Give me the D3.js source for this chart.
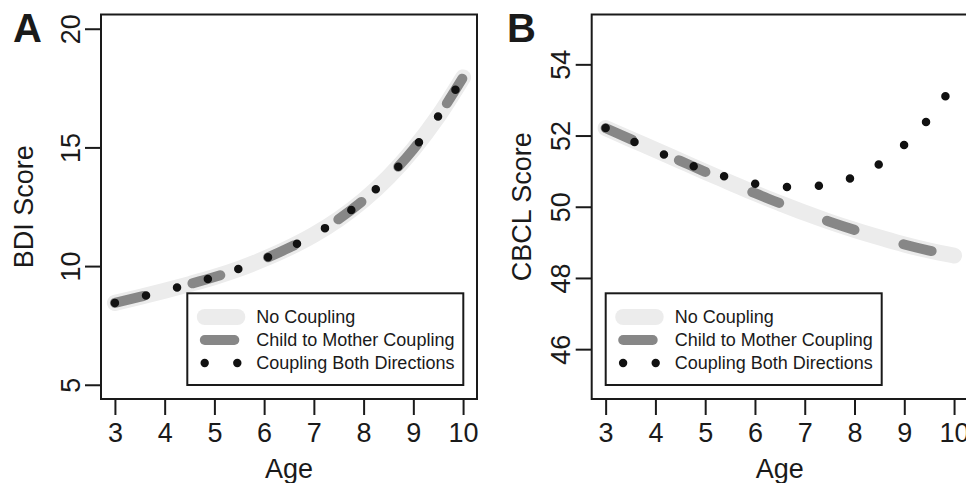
<!DOCTYPE html>
<html><head><meta charset="utf-8">
<script src="https://cdn.jsdelivr.net/npm/d3@7"></script>
<style>
body{margin:0;background:#fff}
svg{display:block}
text{font-family:"Liberation Sans",Arial,Helvetica,sans-serif;fill:#1a1a1a}
</style>
</head><body>
<svg id="c" width="966" height="483"></svg>
<script>
// ---- data ----
const ages = [3,3.5,4,4.5,5,5.5,6,6.5,7,7.5,8,8.5,9,9.5,10];
const bdiNoCoupling      = [8.45,8.70,8.96,9.24,9.54,9.89,10.30,10.77,11.32,11.98,12.78,13.75,14.92,16.31,17.95];
const bdiChildToMother   = [8.45,8.70,8.96,9.24,9.54,9.89,10.30,10.77,11.32,11.98,12.78,13.75,14.92,16.31,17.95];
const bdiBothDirections  = [8.45,8.70,8.96,9.24,9.54,9.89,10.30,10.77,11.32,11.98,12.78,13.75,14.92,16.31,17.95];
const cbclNoCoupling     = [52.21,51.90,51.60,51.29,50.98,50.68,50.38,50.10,49.83,49.58,49.35,49.14,48.94,48.77,48.63];
const cbclChildToMother  = [52.21,51.90,51.60,51.29,50.98,50.68,50.38,50.10,49.83,49.58,49.35,49.14,48.94,48.77,48.63];
const cbclBothDirections = [52.21,51.87,51.57,51.28,51.02,50.81,50.65,50.56,50.55,50.65,50.84,51.20,51.74,52.49,53.45];
const ageTicks  = [3,4,5,6,7,8,9,10];
const bdiTicks  = [5,10,15,20];
const cbclTicks = [46,48,50,52,54];
const bdiLimits  = [5,20];
const cbclLimits = [45,55];
const ageLimits  = [3,10];
const legendLabels = ["No Coupling","Child to Mother Coupling","Coupling Both Directions"];

// ---- styles ----
const INK = "#1a1a1a";
const BAND = "#ececec";
const DASH = "#878787";
const DOT = "#111111";

const svg = d3.select("#c");

function expand(lim){ const d=(lim[1]-lim[0])*0.04; return [lim[0]-d, lim[1]+d]; }

function panel(cfg){
  const g = svg.append("g");
  const x = d3.scaleLinear().domain(expand(ageLimits)).range([cfg.left, cfg.right]);
  const y = d3.scaleLinear().domain(expand(cfg.limits)).range([cfg.bottom, cfg.top]);

  const clipId = "clip"+cfg.id;
  svg.append("defs").append("clipPath").attr("id",clipId)
    .append("rect").attr("x",cfg.left).attr("y",cfg.top)
    .attr("width",cfg.right-cfg.left).attr("height",cfg.bottom-cfg.top);

  const line = d3.line().x((d,i)=>x(ages[i])).y(d=>y(d)).curve(d3.curveMonotoneX);
  const lg = g.append("g").attr("clip-path",`url(#${clipId})`);
  lg.append("path").attr("d",line(cfg.s1)).attr("fill","none")
    .attr("stroke",BAND).attr("stroke-width",16).attr("stroke-linecap","round").attr("stroke-linejoin","round");
  lg.append("path").attr("d",line(cfg.s2)).attr("fill","none")
    .attr("stroke",DASH).attr("stroke-width",10).attr("stroke-linecap","round")
    .attr("stroke-dasharray","29,51");
  lg.append("path").attr("d",line(cfg.s3)).attr("fill","none")
    .attr("stroke",DOT).attr("stroke-width",8.5).attr("stroke-linecap","round")
    .attr("stroke-dasharray","0,32");

  // box
  g.append("rect").attr("x",cfg.left).attr("y",cfg.top)
    .attr("width",cfg.right-cfg.left).attr("height",cfg.bottom-cfg.top)
    .attr("fill","none").attr("stroke",INK).attr("stroke-width",2);

  // x axis
  const xa = g.append("g").attr("transform",`translate(0,${cfg.bottom})`)
    .call(d3.axisBottom(x).tickValues(ageTicks).tickSize(16).tickFormat(d3.format("d")));
  xa.select(".domain").remove();
  xa.selectAll("line").attr("stroke",INK).attr("stroke-width",2);
  xa.selectAll("text").attr("y",43).attr("dy",0).attr("font-size",27)
    .attr("font-family",null).style("fill",INK);

  // y axis
  const ya = g.append("g").attr("transform",`translate(${cfg.left},0)`)
    .call(d3.axisLeft(y).tickValues(cfg.ticks).tickSize(16).tickFormat(d3.format("d")));
  ya.select(".domain").remove();
  ya.selectAll("line").attr("stroke",INK).attr("stroke-width",2);
  ya.selectAll("text").attr("transform","rotate(-90)").attr("x",0).attr("y",-21.5).attr("dy",0)
    .attr("text-anchor","middle").attr("font-size",27).style("fill",INK);
  ya.attr("font-family",null);
  xa.attr("font-family",null);

  // axis titles
  g.append("text").attr("x",(cfg.left+Math.min(cfg.right,cfg.left+376))/2).attr("y",478)
    .attr("text-anchor","middle").attr("font-size",27).text("Age");
  g.append("text").attr("transform",`translate(${cfg.ylabX},${(cfg.top+cfg.bottom)/2}) rotate(-90)`)
    .attr("text-anchor","middle").attr("font-size",27).text(cfg.ylabel);

  // letter
  g.append("text").attr("x",cfg.letterX).attr("y",42).attr("font-size",40)
    .attr("font-weight","bold").text(cfg.letter);

  // legend
  const L = g.append("g").attr("transform",`translate(${cfg.legX},293.3)`);
  L.append("rect").attr("width",276).attr("height",91.7).attr("fill","#fff")
    .attr("stroke",INK).attr("stroke-width",2);
  const rows = [23.7,46.7,69.7];
  L.append("line").attr("x1",17.5).attr("x2",50).attr("y1",rows[0]).attr("y2",rows[0])
    .attr("stroke",BAND).attr("stroke-width",16).attr("stroke-linecap","round");
  L.append("line").attr("x1",17.5).attr("x2",47).attr("y1",rows[1]).attr("y2",rows[1])
    .attr("stroke",DASH).attr("stroke-width",10).attr("stroke-linecap","round");
  L.selectAll("circle").data([17.4,50]).join("circle")
    .attr("cx",d=>d).attr("cy",rows[2]).attr("r",4.2).attr("fill",DOT);
  L.selectAll("text.lab").data(legendLabels).join("text").attr("class","lab")
    .attr("x",69).attr("y",(d,i)=>rows[i]+6.4).attr("font-size",18).text(d=>d);
}

panel({id:"A", left:101, right:477, top:14.5, bottom:399, limits:bdiLimits, ticks:bdiTicks,
  s1:bdiNoCoupling, s2:bdiChildToMother, s3:bdiBothDirections,
  ylabel:"BDI Score", ylabX:33, letter:"A", letterX:13, legX:187.3});
panel({id:"B", left:591.7, right:968, top:14.5, bottom:399, limits:cbclLimits, ticks:cbclTicks,
  s1:cbclNoCoupling, s2:cbclChildToMother, s3:cbclBothDirections,
  ylabel:"CBCL Score", ylabX:531, letter:"B", letterX:507, legX:605.7});
</script>
</body></html>
